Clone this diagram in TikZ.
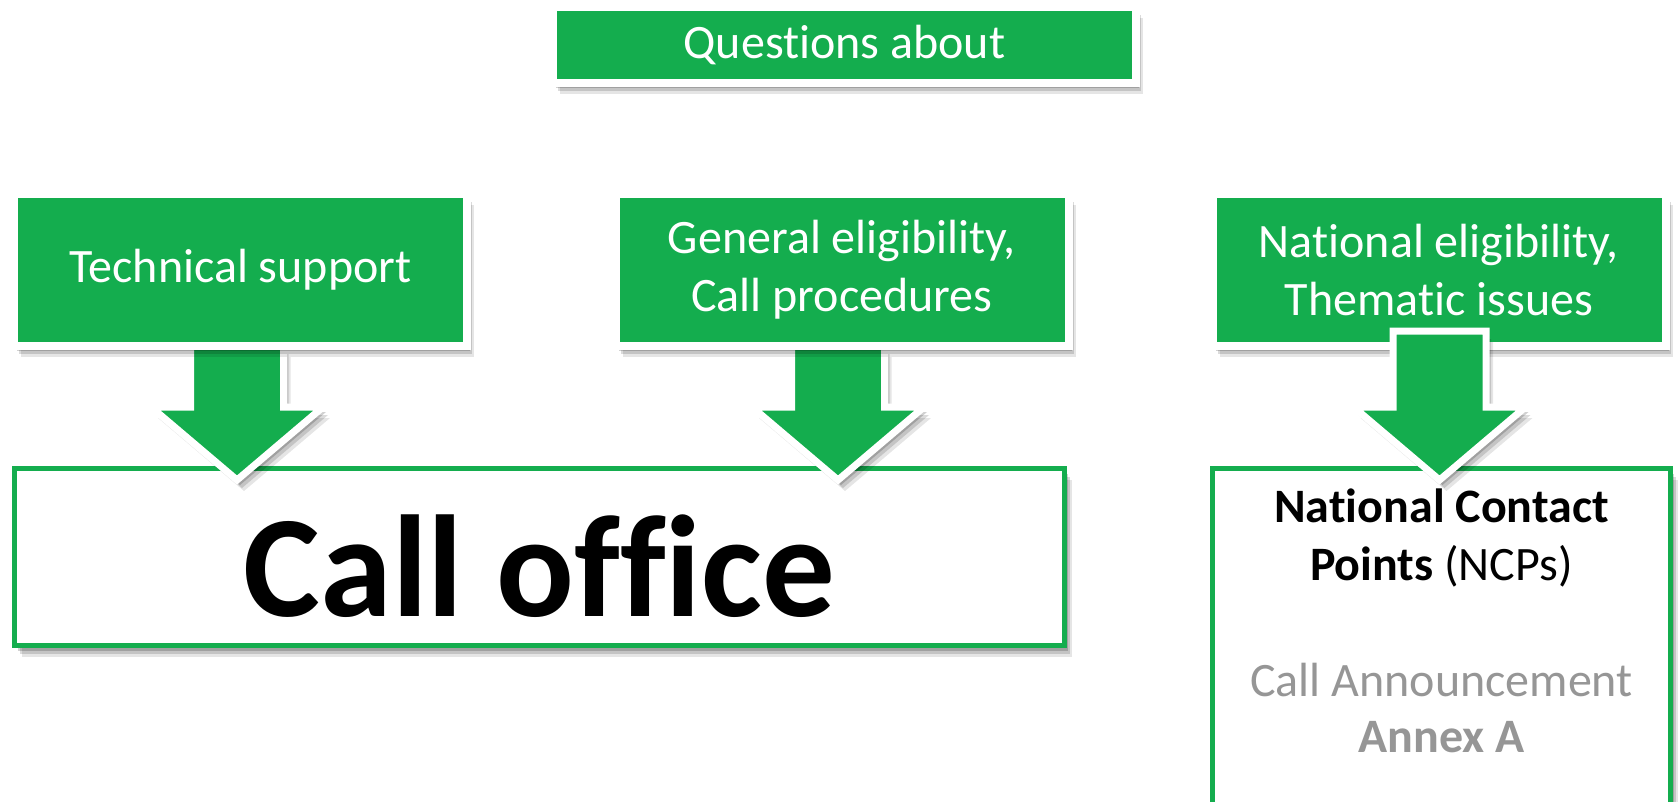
\documentclass[tikz,border=0pt]{standalone}
\usepackage{fontspec}
\setmainfont{Carlito}[Ligatures=NoCommon]
\usetikzlibrary{shadows,calc}

\definecolor{callgreen}{RGB}{20,173,78}
\definecolor{refgray}{RGB}{150,150,150}

\tikzset{
  softshadow/.style={
    drop shadow={shadow xshift=3pt, shadow yshift=-5pt, opacity=0.18, fill=black},
    drop shadow={shadow xshift=5pt, shadow yshift=-8pt, opacity=0.14, fill=black},
    drop shadow={shadow xshift=7pt, shadow yshift=-11pt, opacity=0.10, fill=black}},
  greenbox/.style={draw=white, line width=8pt, fill=callgreen, text=white, inner sep=0pt, outer sep=0pt,
    minimum width=453pt, minimum height=152pt, align=center, font=\fontsize{48}{58}\selectfont, softshadow},
  outbox/.style={draw=callgreen, line width=5pt, fill=white, inner sep=0pt, outer sep=0pt, softshadow},
  bigarrow/.style={fill=callgreen, draw=white, line width=7pt, softshadow},
}

% block arrow from a point (top of shaft) down to a tip
\newcommand{\blockarrow}[2]{%
  \path[bigarrow] let \p1=(#1), \p2=(#2) in
    (\x1-46.5pt,\y1) -- (\x1+46.5pt,\y1) -- (\x1+46.5pt,\y2+73pt) -- (\x1+86pt,\y2+73pt)
    -- (\x1,\y2) -- (\x1-86pt,\y2+73pt) -- (\x1-46.5pt,\y2+73pt) -- cycle;}

\begin{document}
\begin{tikzpicture}[x=1pt, y=-1pt]
\useasboundingbox (0,0) rectangle (1679,801);
\fill [white] (0,0) rectangle (1679,801);
%
\node [outbox, minimum width=1050pt, minimum height=177pt, text height=118pt, text depth=0pt,
  font=\bfseries\fontsize{145}{145}\selectfont] (office) at (539.5,557) {Call office};
\node [outbox, minimum width=458pt, minimum height=342pt, anchor=north] (ncp) at (1441.5,468.5) {};
\node [align=center, anchor=base, font=\fontsize{48}{58}\selectfont] (ncpname) at (1441.5,580) {\textbf{National Contact}\\\textbf{Points} (NCPs)};
\node [align=center, anchor=base, text=refgray, font=\fontsize{48}{56}\selectfont] (annex) at (1441.5,752) {Call Announcement\\\textbf{Annex A}};
%
\coordinate (tip1) at (237,480);
\coordinate (tip2) at (838,480);
\coordinate (tip3) at (1439.5,480);
\blockarrow{237,346}{tip1}
\blockarrow{838,346}{tip2}
%
\node [greenbox, minimum width=583pt, minimum height=76pt] (quest) at (844.5,45) {Questions about};
\node [greenbox] (tech) at (240.5,270) {Technical support};
\node [greenbox] (gen) at (842,270) {General eligibility,\\Call procedures};
\node [greenbox] (them) at (1439,270) {National eligibility,\\Thematic issues};
%
\blockarrow{$(them.south)+(0.5,-15)$}{tip3}
%%%%%%%%%%%%%%%%%%%%%%%%%%%%%%%
\end{tikzpicture}
\end{document}
